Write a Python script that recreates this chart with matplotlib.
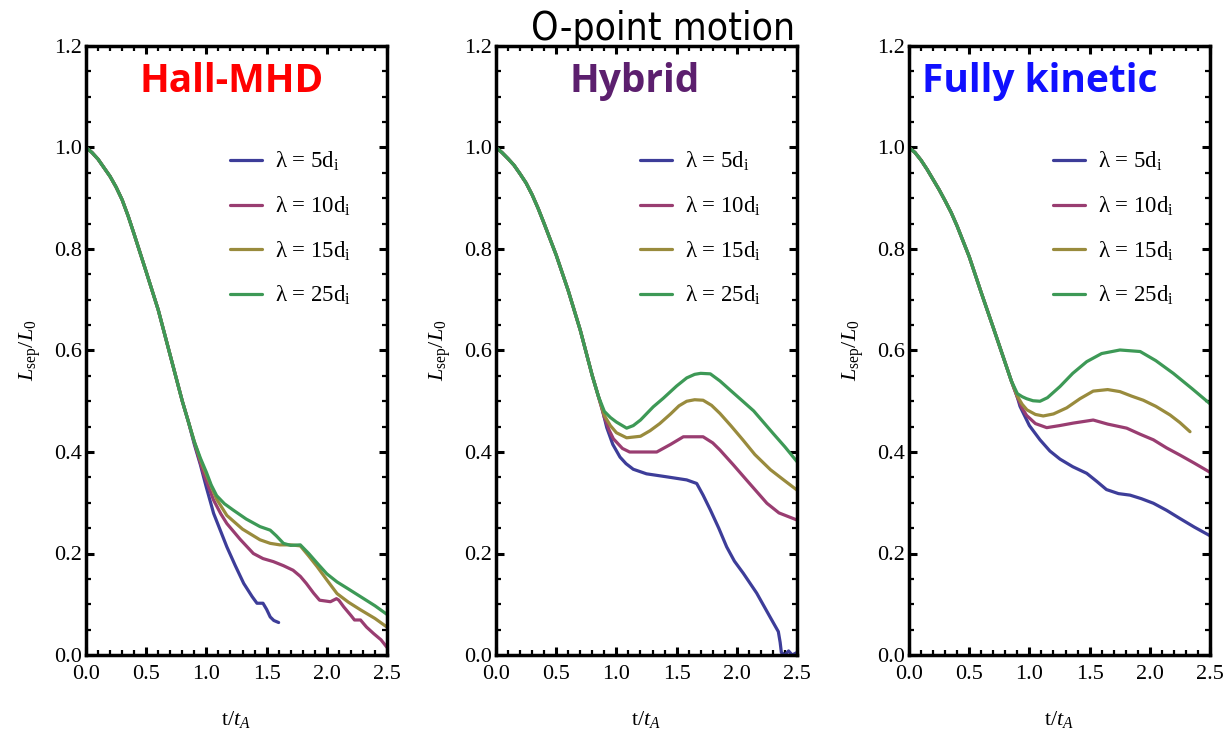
import matplotlib
matplotlib.use("Agg")
import matplotlib.pyplot as plt
from matplotlib.ticker import MultipleLocator, FormatStrFormatter
from matplotlib import font_manager
import os

# ---------------- data ----------------
labels = [r"λ = 5d$_\mathrm{i}$", r"λ = 10d$_\mathrm{i}$", r"λ = 15d$_\mathrm{i}$", r"λ = 25d$_\mathrm{i}$"]
colors = ["#3d3d99", "#993d71", "#998b3d", "#3d9956"]
panel_titles = ["Hall-MHD", "Hybrid", "Fully kinetic"]
title_colors = ["#ff0000", "#5c1f6e", "#1010ff"]

# Hall-MHD
t_hall_common = [0, 0.05, 0.1, 0.15, 0.2, 0.25, 0.3, 0.35, 0.4, 0.5, 0.6, 0.7, 0.8, 0.85]
v_hall_common = [1.0, 0.99, 0.977, 0.96, 0.943, 0.922, 0.897, 0.865, 0.829, 0.755, 0.68, 0.59, 0.50, 0.46]
t_hall_5 = [0.9, 0.95, 1.0, 1.06, 1.12, 1.17, 1.24, 1.31, 1.38, 1.42, 1.47, 1.5, 1.53, 1.56, 1.6]
v_hall_5 = [0.415, 0.375, 0.33, 0.279, 0.243, 0.213, 0.176, 0.141, 0.115, 0.102, 0.102, 0.09, 0.075, 0.068, 0.064]
t_hall_10 = [0.9, 0.98, 1.06, 1.12, 1.17, 1.28, 1.39, 1.47, 1.556, 1.64, 1.72, 1.78, 1.83, 1.89, 1.94, 2.03, 2.08, 2.1, 2.14, 2.2, 2.23, 2.28, 2.33, 2.39, 2.45, 2.5]
v_hall_10 = [0.418, 0.355, 0.305, 0.278, 0.259, 0.228, 0.2, 0.19, 0.184, 0.176, 0.167, 0.155, 0.141, 0.122, 0.108, 0.105, 0.111, 0.108, 0.095, 0.078, 0.069, 0.069, 0.055, 0.042, 0.03, 0.015]
t_hall_15 = [0.9, 0.95, 1.0, 1.085, 1.17, 1.3, 1.445, 1.53, 1.61, 1.7, 1.78, 1.85, 1.92, 2.0, 2.085, 2.18, 2.28, 2.4, 2.5]
v_hall_15 = [0.42, 0.385, 0.355, 0.307, 0.275, 0.248, 0.227, 0.22, 0.217, 0.217, 0.215, 0.195, 0.174, 0.148, 0.121, 0.104, 0.089, 0.072, 0.055]
t_hall_25 = [0.9, 0.95, 1.0, 1.04, 1.085, 1.15, 1.22, 1.33, 1.445, 1.53, 1.58, 1.64, 1.7, 1.78, 1.85, 1.92, 2.0, 2.085, 2.18, 2.28, 2.4, 2.5]
v_hall_25 = [0.42, 0.388, 0.36, 0.335, 0.314, 0.298, 0.286, 0.268, 0.253, 0.246, 0.235, 0.22, 0.216, 0.217, 0.2, 0.181, 0.16, 0.144, 0.13, 0.115, 0.097, 0.08]

# Hybrid
t_hyb_common = [0, 0.05, 0.1, 0.15, 0.2, 0.25, 0.3, 0.35, 0.4, 0.5, 0.6, 0.7, 0.8, 0.85]
v_hyb_common = [1.0, 0.99, 0.978, 0.965, 0.948, 0.93, 0.907, 0.88, 0.85, 0.788, 0.718, 0.64, 0.55, 0.51]
t_hyb_5 = [0.88, 0.92, 0.97, 1.03, 1.08, 1.14, 1.25, 1.42, 1.584, 1.667, 1.72, 1.78, 1.85, 1.916, 1.98, 2.054, 2.165, 2.276, 2.345, 2.36, 2.37, 2.4, 2.43, 2.46, 2.5]
v_hyb_5 = [0.487, 0.448, 0.415, 0.39, 0.377, 0.366, 0.357, 0.351, 0.345, 0.338, 0.315, 0.286, 0.25, 0.213, 0.185, 0.161, 0.122, 0.075, 0.046, 0.025, 0.005, 0.0, 0.008, 0.0, 0.005]
t_hyb_10 = [0.9, 0.94, 0.975, 1.05, 1.11, 1.2, 1.335, 1.45, 1.556, 1.72, 1.8, 1.86, 1.97, 2.08, 2.25, 2.35, 2.5]
v_hyb_10 = [0.468, 0.443, 0.426, 0.407, 0.40, 0.40, 0.40, 0.415, 0.43, 0.43, 0.418, 0.404, 0.375, 0.345, 0.299, 0.28, 0.266]
t_hyb_15 = [0.9, 0.95, 1.0, 1.085, 1.2, 1.28, 1.36, 1.45, 1.52, 1.584, 1.65, 1.72, 1.79, 1.86, 1.95, 2.05, 2.15, 2.28, 2.4, 2.5]
v_hyb_15 = [0.472, 0.452, 0.438, 0.428, 0.431, 0.442, 0.456, 0.475, 0.491, 0.5, 0.503, 0.502, 0.492, 0.476, 0.452, 0.424, 0.395, 0.365, 0.343, 0.325]
t_hyb_25 = [0.9, 0.95, 1.0, 1.085, 1.14, 1.2, 1.306, 1.39, 1.5, 1.584, 1.65, 1.7, 1.78, 1.86, 1.945, 2.05, 2.14, 2.3, 2.4, 2.5]
v_hyb_25 = [0.48, 0.468, 0.459, 0.447, 0.452, 0.463, 0.489, 0.506, 0.53, 0.546, 0.553, 0.555, 0.554, 0.54, 0.522, 0.5, 0.481, 0.437, 0.41, 0.381]

# Fully kinetic
t_kin_common = [0, 0.05, 0.1, 0.15, 0.2, 0.25, 0.3, 0.35, 0.4, 0.5, 0.6, 0.7, 0.8, 0.85]
v_kin_common = [1.0, 0.99, 0.975, 0.957, 0.937, 0.917, 0.895, 0.872, 0.845, 0.785, 0.714, 0.645, 0.575, 0.54]
t_kin_5 = [0.9, 0.922, 1.0, 1.088, 1.17, 1.254, 1.36, 1.476, 1.56, 1.64, 1.74, 1.836, 1.93, 2.03, 2.14, 2.25, 2.37, 2.5]
v_kin_5 = [0.508, 0.49, 0.452, 0.424, 0.402, 0.386, 0.371, 0.358, 0.342, 0.326, 0.318, 0.315, 0.308, 0.299, 0.285, 0.269, 0.252, 0.235]
t_kin_10 = [0.9, 0.94, 0.977, 1.05, 1.144, 1.25, 1.365, 1.53, 1.65, 1.808, 1.92, 2.03, 2.14, 2.25, 2.37, 2.5]
v_kin_10 = [0.508, 0.486, 0.472, 0.456, 0.448, 0.452, 0.457, 0.463, 0.455, 0.447, 0.435, 0.424, 0.408, 0.394, 0.378, 0.36]
t_kin_15 = [0.9, 0.94, 0.98, 1.05, 1.115, 1.2, 1.31, 1.42, 1.53, 1.65, 1.752, 1.85, 1.946, 2.05, 2.168, 2.25, 2.334]
v_kin_15 = [0.51, 0.494, 0.483, 0.474, 0.471, 0.475, 0.487, 0.505, 0.52, 0.523, 0.519, 0.51, 0.502, 0.49, 0.473, 0.458, 0.44]
t_kin_25 = [0.9, 0.94, 0.977, 1.03, 1.088, 1.15, 1.254, 1.36, 1.476, 1.6, 1.752, 1.92, 2.05, 2.195, 2.35, 2.5]
v_kin_25 = [0.515, 0.509, 0.505, 0.501, 0.5, 0.507, 0.529, 0.555, 0.578, 0.594, 0.601, 0.598, 0.58, 0.555, 0.525, 0.495]

panels = [
    (t_hall_common, v_hall_common, [(t_hall_5, v_hall_5), (t_hall_10, v_hall_10), (t_hall_15, v_hall_15), (t_hall_25, v_hall_25)]),
    (t_hyb_common, v_hyb_common, [(t_hyb_5, v_hyb_5), (t_hyb_10, v_hyb_10), (t_hyb_15, v_hyb_15), (t_hyb_25, v_hyb_25)]),
    (t_kin_common, v_kin_common, [(t_kin_5, v_kin_5), (t_kin_10, v_kin_10), (t_kin_15, v_kin_15), (t_kin_25, v_kin_25)]),
]

# ---------------- style ----------------
plt.rcParams['font.family'] = ['Liberation Serif', 'DejaVu Serif']
plt.rcParams['mathtext.fontset'] = 'custom'
plt.rcParams['mathtext.rm'] = 'Liberation Serif'
plt.rcParams['mathtext.it'] = 'Liberation Serif:italic'
plt.rcParams['mathtext.bf'] = 'Liberation Serif:bold'

# find a condensed / narrow sans font for the main title
title_prop = None
cands = [f.fname for f in font_manager.fontManager.ttflist]
prefs = ['LiberationSansNarrow-Regular', 'DejaVuSansCondensed.ttf', 'RobotoCondensed-Light',
         'RobotoCondensed-Regular', 'OpenSansCondensed-Light', 'Roboto-Light']
for p in prefs:
    hits = [c for c in cands if p in os.path.basename(c)]
    if hits:
        title_prop = font_manager.FontProperties(fname=hits[0], size=28 if ('Condensed' in p or 'Narrow' in p) else 25)
        break
if title_prop is None:
    title_prop = font_manager.FontProperties(family='Liberation Sans', size=25)

fig = plt.figure(figsize=(12.26, 7.31), dpi=100)
W, H = 1226, 731
lefts = [86, 496, 909]
for i, (tc, vc, series) in enumerate(panels):
    ax = fig.add_axes([lefts[i] / W, (H - 655) / H, 301 / W, 609 / H])
    for j, (ts, vs) in enumerate(series):
        tt = list(tc) + list(ts)
        vv = list(vc) + list(vs)
        ax.plot(tt, vv, color=colors[j], lw=2.3, label=labels[j],
                solid_joinstyle='round', solid_capstyle='round')
    ax.set_xlim(0, 2.5)
    ax.set_ylim(0, 1.2)
    ax.xaxis.set_major_locator(MultipleLocator(0.5))
    ax.xaxis.set_minor_locator(MultipleLocator(0.1))
    ax.yaxis.set_major_locator(MultipleLocator(0.2))
    ax.yaxis.set_minor_locator(MultipleLocator(0.05))
    ax.xaxis.set_major_formatter(FormatStrFormatter('%.1f'))
    ax.yaxis.set_major_formatter(FormatStrFormatter('%.1f'))
    ax.tick_params(which='both', direction='in', top=True, right=True, labelsize=16)
    ax.tick_params(which='major', length=6, width=2.2)
    ax.tick_params(which='minor', length=3.5, width=1.6)
    ax.tick_params(axis='x', which='major', pad=7)
    ax.tick_params(axis='y', which='major', pad=3)
    for s in ax.spines.values():
        s.set_linewidth(2.5)
    ax.set_ylabel(r'$L_\mathrm{sep}/L_0$', fontsize=16, labelpad=8)
    ax.set_xlabel(r't/$t_A$', fontsize=16, labelpad=18)
    tx = [0.483, 0.46, 0.435][i]
    ax.text(tx, 0.924, panel_titles[i], transform=ax.transAxes, ha='center', va='baseline',
            fontsize=28, fontweight='bold', color=title_colors[i], family='Open Sans')
    ax.legend(loc='upper left', bbox_to_anchor=(0.478, 0.829), frameon=False, fontsize=16.5,
              handlelength=1.4, handletextpad=0.55, labelspacing=0.93, borderpad=0, borderaxespad=0)

fig.text(663 / W, 1 - 40 / H, 'O-point motion', ha='center', va='baseline',
         fontproperties=title_prop, color='black')

fig.savefig('out.png', dpi=100)
